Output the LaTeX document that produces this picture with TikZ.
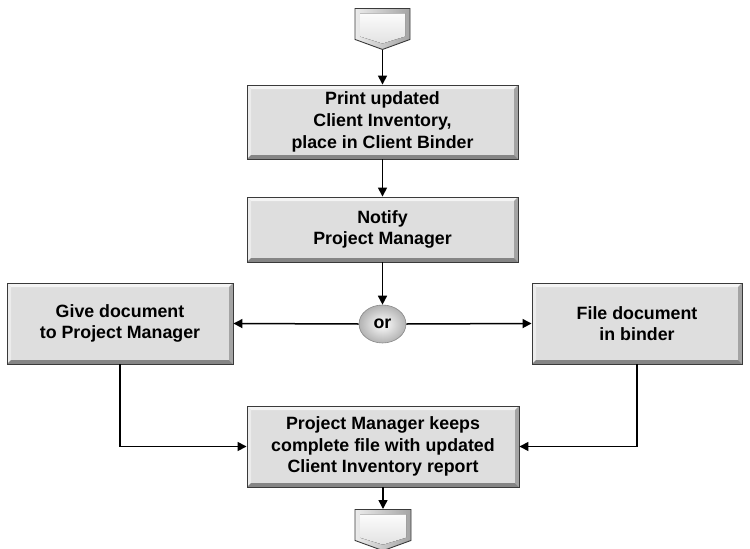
\documentclass[tikz,border=0pt]{standalone}
\usepackage{fontspec}
\setmainfont{Liberation Sans}
\usetikzlibrary{arrows.meta,shapes.geometric,shapes.symbols}

\definecolor{face}{HTML}{DEDEDE}
\definecolor{edge}{HTML}{3A3A3A}
\definecolor{bevtop}{HTML}{F4F4F4}
\definecolor{bevleft}{HTML}{ECECEC}
\definecolor{bevright}{HTML}{A4A4A4}
\definecolor{bevbottom}{HTML}{858585}

\newcommand{\bev}{4pt}

\tikzset{
  txt/.style={font=\bfseries\fontsize{17.8}{21.7}\selectfont, align=center},
  bevelbox/.style={rectangle, draw=edge, line width=0.9pt, fill=face, inner sep=0pt, txt,
    path picture={
      \fill[bevtop] (path picture bounding box.north west) -- (path picture bounding box.north east)
        -- ([xshift=-\bev,yshift=-\bev]path picture bounding box.north east)
        -- ([xshift=\bev,yshift=-\bev]path picture bounding box.north west) -- cycle;
      \fill[bevleft] (path picture bounding box.north west) -- ([xshift=\bev,yshift=-\bev]path picture bounding box.north west)
        -- ([xshift=\bev,yshift=\bev]path picture bounding box.south west)
        -- (path picture bounding box.south west) -- cycle;
      \fill[bevright] (path picture bounding box.north east) -- ([xshift=-\bev,yshift=-\bev]path picture bounding box.north east)
        -- ([xshift=-\bev,yshift=\bev]path picture bounding box.south east)
        -- (path picture bounding box.south east) -- cycle;
      \fill[bevbottom] (path picture bounding box.south west) -- (path picture bounding box.south east)
        -- ([xshift=-\bev,yshift=\bev]path picture bounding box.south east)
        -- ([xshift=\bev,yshift=\bev]path picture bounding box.south west) -- cycle;
    }},
  offpage/.style={signal, signal to=south, signal pointer angle=140, draw=edge, line width=0.9pt,
    left color=bevleft, right color=bevright, inner sep=0pt, minimum width=55pt, minimum height=31pt,
    path picture={
      \fill[top color=white, bottom color=face]
        ([xshift=5pt,yshift=-5pt]path picture bounding box.north west)
        -- ([xshift=-5pt,yshift=-5pt]path picture bounding box.north east)
        -- ([xshift=-5pt,yshift=13pt]path picture bounding box.south east)
        -- ([yshift=6pt]path picture bounding box.south)
        -- ([xshift=5pt,yshift=13pt]path picture bounding box.south west) -- cycle;
    }},
  choice/.style={ellipse, draw=edge!60, line width=0.6pt, inner sep=0pt, txt,
    inner color=white, outer color=gray!60, minimum width=47pt, minimum height=38pt},
  flow/.style={-{Triangle[length=9pt,width=9pt]}, line width=1.5pt}
}

\begin{document}
\begin{tikzpicture}[x=1pt,y=-1pt]
  \useasboundingbox (0,0) rectangle (750,549);

  \node[offpage, anchor=north] (start) at (382.5,8) {};
  \node[bevelbox, minimum width=271pt, minimum height=74pt] (print) at (382.5,122)
    {Print updated\\Client Inventory,\\place in Client Binder};
  \node[bevelbox, minimum width=271pt, minimum height=65pt] (notify) at (382.5,229.5)
    {Notify\\Project Manager};
  \node[choice] (or) at (382.5,324) {or};
  \node[bevelbox, minimum width=226pt, minimum height=81pt] (give) at (120,323.5)
    {Give document\\to Project Manager};
  \node[bevelbox, minimum width=210pt, minimum height=81pt] (file) at (637,323.5)
    {File document\\in binder};
  \node[bevelbox, minimum width=272pt, minimum height=81pt] (keep) at (383,446.5)
    {Project Manager keeps\\complete file with updated\\Client Inventory report};
  \node[offpage, anchor=north, minimum width=56pt] (end) at (383,509) {};

  \draw[flow] (start.south) -- (print.north);
  \draw[flow] (print.south) -- (notify.north);
  \draw[flow] (notify.south) -- (or.north);
  \draw[flow] (or.west) -- (give.east);
  \draw[flow] (or.east) -- (file.west);
  \draw[flow] (give.south) |- (keep.west);
  \draw[flow] (file.south) |- (keep.east);
  \draw[flow] (keep.south) -- (end.north);
\end{tikzpicture}
\end{document}
